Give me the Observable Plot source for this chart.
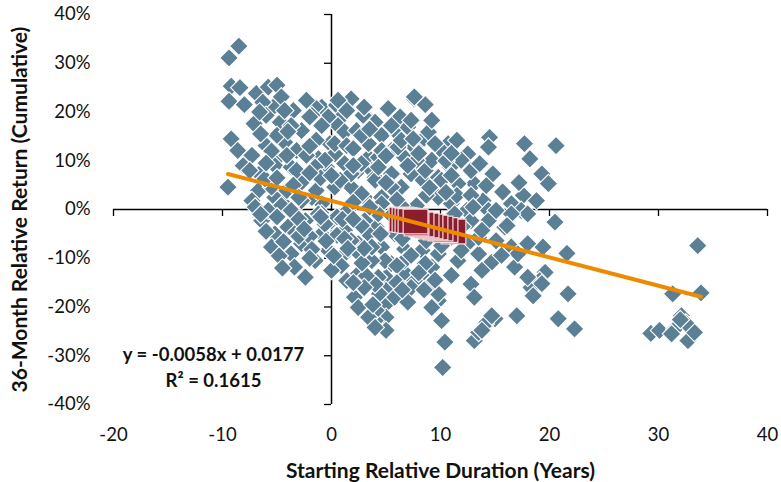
<!DOCTYPE html>
<html>
<head>
<meta charset="utf-8">
<script src="https://cdn.jsdelivr.net/npm/d3@7"></script>
<script src="https://cdn.jsdelivr.net/npm/@observablehq/plot@0.6"></script>
<style>
  html, body { margin: 0; padding: 0; background: #fff; }
</style>
</head>
<body>
<div id="chart"></div>
<script>
// Starting relative duration (years) for each observation
const durX = [
  -8.5,-9.4,-9.2,-8.4,-9.4,-6.9,-5.8,-5.0,-5.35,-6.3,-4.6,-3.5,-4.7,-7.1,-2.75,-2.1,-0.9,0.46,1.8,0.6,
  3.05,4.0,-9.2,-8.6,-8.1,-6.6,-9.5,-4.3,-3.2,-4.9,-5.2,-3.7,-2.75,-1.2,-0.15,0.3,-0.46,1.2,2.45,3.4,
  3.7,3.4,-6.7,-7.3,-5.2,-4.4,-1.5,-0.9,1.8,3.05,4.0,-5.5,-6.1,
  0.6,-1.5,-2.3,-0.3,2.9,5.2,6.3,7.6,8.6,0.6,1.2,0.3,4.6,6.1,7.0,8.3,5.5,6.7,4.3,2.75,-0.6,-1.5,
  1.8,4.0,5.5,7.3,8.4,6.4,0.3,-1.8,2.75,4.6,-0.9,1.5,4.0,
  7.6,8.9,10.7,11.5,12.5,14.5,14.4,17.7,18.2,20.6,14.8,13.1,15.7,17.6,19.3,19.9,10.9,9.8,8.6,7.6,
  6.1,11.6,13.9,16.5,5.5,4.3,12.4,14.4,17.4,4.6,9.8,11.0,
  20.5,19.4,21.6,18.0,16.5,14.7,13.5,11.6,13.8,12.8,13.1,16.8,18.3,19.6,19.1,21.7,20.8,17.0,15.0,14.1,
  13.1,13.5,10.2,10.4,10.1,9.8,8.9,7.6,6.7,5.0,5.0,5.0,5.0,5.0,4.0,4.4,4.3,6.7,5.5,8.3,
  9.2,9.8,11.0,12.5,13.5,14.4,15.9,17.1,18.0,16.5,11.3,12.8,9.8,9.2,7.3,5.8,4.1,4.6,5.8,4.1,
  4.9,6.7,8.6,
  -7.0,-4.6,-6.4,-5.2,-4.0,-5.5,-3.7,-2.4,-1.5,-2.75,-2.4,-1.2,-0.9,-0.3,0.0,1.2,1.2,2.45,2.45,3.7,
  4.0,2.1,2.45,3.4,4.0,3.05,3.4,4.3,3.7,
  1.4,2.3,5.5,7.3,9.2,10.1,11.9,12.8,11.5,10.1,8.7,7.8,6.4,5.5,2.75,1.8,0.5,0.9,0.0,1.4,
  3.2,6.0,7.3,8.7,10.1,11.9,13.8,15.1,15.6,-1.4,-2.75,-3.7,-4.1,-3.2,-2.3,-4.1,-6.0,-7.3,-5.0,-3.7,
  -1.4,-0.9,-1.8,-6.0,-4.3,1.4,2.75,4.6,6.4,9.2,7.8,11.0,12.8,14.2,15.1,16.1,18.8,
  19.3,18.5,18.0,22.3,14.7,13.8,
  33.6,33.9,31.3,29.3,30.1,32.1,31.5,32.7,33.3,31.2,32.5,32.0,
  -5.8,-3.3,-2.0,-1.8,-4.4,-0.6,-3.4,13.6,17.2,
  -6.5,-5.5,-4.0,-2.0,-1.0,-3.5,-5.0,-6.0,-7.5,-2.0,-6.6,-8.0,
  2.0,3.5,5.0,7.5,9.5,10.5,9.0,6.0,3.5,2.0,0.8,0.5,2.5,4.5,6.5,12.0,13.0,10.5,
  -6.0,-4.8,-3.0,-2.0,-0.5,-6.5,3.0,6.0,7.0,8.0,1.0,2.8,
  -3.0,-1.0,1.2,3.0,-4.5,-2.5,0.2,9.0,11.0,3.8,2.0,
  2.0,7.0,11.0,-5.0,1.5,6.5,8.5,0.0,-2.0,5.0,8.0,3.0,-3.0,2.0,9.5
];
// 36-month relative return (cumulative, %) for each observation
const retY = [
  33.5,31.1,25.3,25.0,22.2,23.8,25.1,25.5,21.0,22.0,23.1,20.3,17.9,17.6,16.2,22.0,21.0,21.4,22.7,18.3,
  19.3,17.9,14.5,12.1,9.0,7.3,4.6,13.8,12.1,10.7,9.0,8.7,5.6,10.4,13.5,11.4,8.7,9.4,8.0,10.7,
  8.0,13.5,3.9,1.8,2.5,1.2,3.9,1.2,4.6,2.5,6.6,4.6,6.3,
  22.4,21.0,22.4,19.0,19.3,20.7,19.0,22.7,21.5,17.2,15.9,13.5,15.2,15.5,16.9,14.2,12.1,10.7,10.7,9.4,10.1,8.7,
  7.3,6.0,7.3,7.3,6.0,4.6,4.6,2.5,3.2,2.5,-0.9,-0.2,-0.5,
  23.1,15.9,13.5,14.2,11.4,14.8,12.8,13.5,10.4,13.1,7.3,5.3,3.6,2.9,7.3,5.3,8.7,6.6,8.0,12.8,
  12.8,5.3,1.8,1.2,4.6,8.7,-0.2,-0.2,-0.2,1.2,2.5,1.2,
  -2.6,-7.7,-9.0,-7.0,-7.7,-10.8,-9.1,-10.5,-12.5,-15.3,-18.0,-11.8,-16.0,-12.9,-14.6,-17.3,-22.4,-21.8,-22.4,-23.5,
  -26.9,-25.2,-32.4,-27.2,-22.8,-18.7,-13.9,-14.6,-12.9,-13.9,-16.6,-19.4,-22.1,-24.8,-22.8,-17.3,-13.9,-8.1,-11.1,-8.4,
  -11.8,-9.1,-5.7,-7.0,-5.7,-2.3,-3.6,-9.1,-0.9,-0.9,-0.9,-2.3,-17.3,-20.1,-16.0,-18.0,-20.7,-7.7,-5.0,-3.6,
  -10.5,-10.5,-11.1,
  0.5,0.8,-2.3,-5.0,-3.6,-7.7,-9.1,-13.9,-10.5,-7.0,-2.3,-0.9,-5.0,-8.4,-2.3,-4.3,-9.1,-7.0,-13.2,-10.5,
  -15.3,-18.0,-20.1,-22.1,-24.2,-2.3,-5.0,-0.9,-7.7,
  13.1,16.2,17.2,18.3,18.3,12.1,10.1,8.0,2.9,6.0,2.9,0.8,0.8,-1.2,-3.3,-6.4,-5.3,-11.5,-12.5,-14.6,
  -13.6,-11.5,-9.4,-6.4,-7.4,-8.4,-4.3,-6.4,-9.4,3.9,1.8,-0.2,3.9,8.0,11.1,11.1,13.1,11.1,15.2,17.2,
  14.2,17.2,19.3,19.3,20.3,20.3,15.2,12.1,14.2,10.1,10.1,7.0,2.9,4.9,-0.2,-3.3,1.8,
  -15.2,-17.7,-13.9,-24.5,-21.8,-24.8,
  -7.4,-17.1,-17.3,-25.4,-24.8,-21.8,-24.5,-26.9,-25.2,-25.5,-23.3,-22.6,
  -0.2,-4.8,-5.5,-8.2,-6.6,-3.0,-11.8,9.4,5.5,
  15.5,12.0,16.0,13.0,6.5,5.0,6.5,9.5,8.0,19.0,20.0,21.5,
  12.5,16.5,11.0,14.5,13.5,10.0,4.5,2.0,0.5,1.5,6.0,-1.5,-9.0,-5.0,-6.0,-3.5,0.5,3.5,
  -4.5,-9.5,-2.0,-10.0,-6.5,-1.0,-16.0,-15.0,-19.0,-13.0,-2.0,-11.0,
  -5.5,-1.5,-6.0,-8.0,-12.0,-4.0,-9.5,-15.5,-13.5,-19.5,-15.0,
  9.0,9.0,11.5,-1.5,-8.0,-16.5,-16.5,7.0,7.5,5.5,11.5,21.0,2.5,-2.0,-14.5
];
// Highlighted (current) observations
const redX = [6.42,6.70,6.97,7.25,11.19,10.46,10.0,9.54,9.08,8.72,8.26,7.8,7.71];
const redY = [-2.05,-2.15,-2.26,-2.36,-4.52,-4.21,-3.9,-3.7,-3.49,-3.29,-3.08,-2.87,-2.46];

// Trendline coefficients (fraction units)
const slope = -0.0058;
const intercept = 0.0177;
const eqLabel = "y = -0.0058x + 0.0177";
const r2Label = "R² = 0.1615";

const xTicks = [-20,-10,0,10,20,30,40];
const yTicks = [-40,-30,-20,-10,0,10,20,30,40];
const xTitle = "Starting Relative Duration (Years)";
const yTitle = "36-Month Relative Return (Cumulative)";

const scatter = durX.map((x, i) => ({x, y: retY[i]}));
const red = redX.map((x, i) => ({x, y: redY[i]}));
const xExt = d3.extent(durX);
const trend = xExt.map(x => ({x, y: (slope * x + intercept) * 100}));

const axisColor = "#000";
const chart = Plot.plot({
  width: 781,
  height: 482,
  marginLeft: 113,
  marginRight: 14,
  marginTop: 14,
  marginBottom: 78,
  style: {fontFamily: "Lato, 'Open Sans', sans-serif", fontSize: "18.5px", color: "#000", background: "#fff"},
  x: {domain: [-20, 40]},
  y: {domain: [-40, 40]},
  marks: [
    Plot.axisX(xTicks, {anchor: "bottom", tickSize: 0, tickPadding: 23, tickFormat: d => String(d), label: null, fill: "#111"}),
    Plot.axisY(yTicks, {anchor: "left", tickSize: 0, tickPadding: 23, tickFormat: d => `${d}%`, label: null, fill: "#111"}),
    Plot.ruleY([0], {stroke: axisColor, strokeWidth: 1.5}),
    Plot.ruleX([0], {stroke: axisColor, strokeWidth: 1.5}),
    Plot.ruleX(xTicks, {x: d => d, y1: 0, y2: 0, insetBottom: -7, stroke: axisColor, strokeWidth: 1.3}),
    Plot.ruleY(yTicks, {y: d => d, x1: 0, x2: 0, insetLeft: -7, stroke: axisColor, strokeWidth: 1.3}),
    Plot.dot(scatter, {x: "x", y: "y", symbol: "diamond2", r: 8.4, fill: "#5B7F95", stroke: "#fff", strokeWidth: 1.1}),
    Plot.dot(red, {x: "x", y: "y", symbol: "square", r: 14, fill: "#8B1E2D", stroke: "#f6dde0", strokeWidth: 1.2}),
    Plot.line(trend, {x: "x", y: "y", stroke: "#EE8A00", strokeWidth: 4}),
    Plot.text([eqLabel], {text: d => d, frameAnchor: "bottom-left", dx: 100, dy: -44, textAnchor: "middle", fontWeight: "bold", fontSize: 18.5, fill: "#111"}),
    Plot.text([r2Label], {text: d => d, frameAnchor: "bottom-left", dx: 100, dy: -18, textAnchor: "middle", fontWeight: "bold", fontSize: 18.5, fill: "#111"}),
    Plot.text([xTitle], {text: d => d, frameAnchor: "bottom", dy: 73, lineAnchor: "bottom", textAnchor: "middle", fontWeight: "bold", fontSize: 21, fill: "#111"}),
    Plot.text([yTitle], {text: d => d, frameAnchor: "left", dx: -93, rotate: -90, textAnchor: "middle", lineAnchor: "middle", fontWeight: "bold", fontSize: 21, fill: "#111"})
  ]
});
document.getElementById("chart").appendChild(chart);
</script>
</body>
</html>
